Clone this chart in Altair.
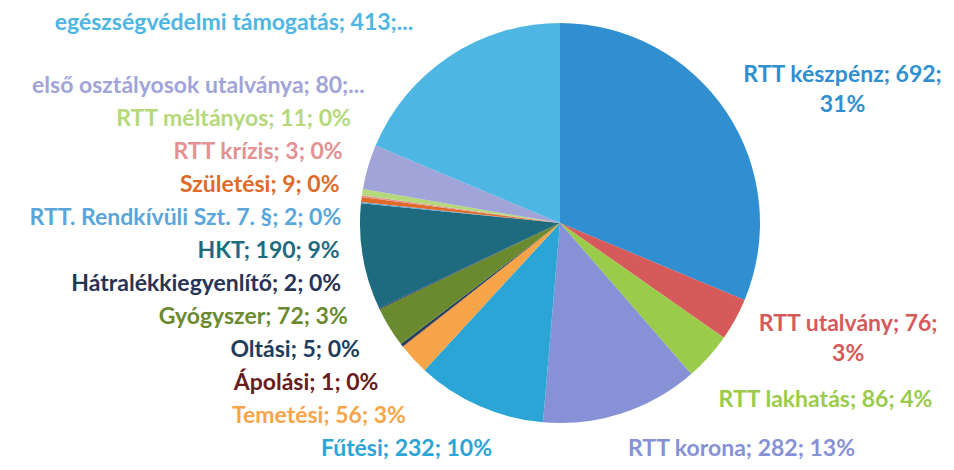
import math
import altair as alt
import pandas as pd

# ---- data ----
categories = [
    "RTT készpénz", "RTT utalvány", "RTT lakhatás", "RTT korona", "Fűtési",
    "Temetési", "Ápolási", "Oltási", "Gyógyszer", "Hátralékkiegyenlítő", "HKT",
    "RTT. Rendkívüli Szt. 7. §", "Születési", "RTT krízis", "RTT méltányos",
    "első osztályosok utalványa", "egészségvédelmi támogatás",
]
values = [692, 76, 86, 282, 232, 56, 1, 5, 72, 2, 190, 2, 9, 3, 11, 80, 413]
label_texts = [
    "RTT készpénz; 692;\n31%", "RTT utalvány; 76;\n3%", "RTT lakhatás; 86; 4%",
    "RTT korona; 282; 13%", "Fűtési; 232; 10%", "Temetési; 56; 3%",
    "Ápolási; 1; 0%", "Oltási; 5; 0%", "Gyógyszer; 72; 3%",
    "Hátralékkiegyenlítő; 2; 0%", "HKT; 190; 9%", "RTT. Rendkívüli Szt. 7. §; 2; 0%",
    "Születési; 9; 0%", "RTT krízis; 3; 0%", "RTT méltányos; 11; 0%",
    "első osztályosok utalványa; 80;...", "egészségvédelmi támogatás; 413;...",
]
colors = [
    "#2F8FD1", "#D65A5A", "#9BCB4B", "#8691D6", "#2AA5D5", "#F8A54A",
    "#6A1B1B", "#1E3D5C", "#6B8A2F", "#283355", "#1E6B7F", "#5AA6DA",
    "#E06A2A", "#E39191", "#B5D97A", "#A0A4D8", "#4DB6E2",
]

# ---- layout ----
W, H = 938, 454
CX, CY = 552, 215
R = 200
RL = 240
FS = 23
LH = 30
CHAR_W = 0.49 * FS
Y_MIN, Y_MAX = 7, 441

total = sum(values)
cum = 0
items = []
for i, (c, v, t) in enumerate(zip(categories, values, label_texts)):
    mid = (cum + v / 2) / total * 2 * math.pi
    cum += v
    lines = t.split("\n")
    n = len(lines)
    w = max(len(l) for l in lines) * CHAR_W
    right = math.sin(mid) >= 0
    items.append(dict(
        idx=i, cat=c, text=t, n=n, w=w, right=right,
        y0=CY - RL * math.cos(mid),
        h=33 if n == 1 else 90,
    ))


def spread(group):
    group.sort(key=lambda d: d["y0"])
    ys = [d["y0"] for d in group]
    for k in range(1, len(group)):
        ys[k] = max(ys[k], ys[k - 1] + (group[k - 1]["h"] + group[k]["h"]) / 2)
    ys[-1] = min(ys[-1], Y_MAX)
    for k in range(len(group) - 2, -1, -1):
        ys[k] = min(ys[k], ys[k + 1] - (group[k]["h"] + group[k + 1]["h"]) / 2)
    ys[0] = max(ys[0], Y_MIN)
    for d, y in zip(group, ys):
        d["ly"] = y


spread([d for d in items if d["right"]])
spread([d for d in items if not d["right"]])

for d in items:
    dy = d["ly"] - CY
    if d["ly"] - FS / 2 > CY + R + 4:
        # label lies wholly below the pie: it can sit close to the centre line
        dx = 68
    else:
        r = 218 + 0.15 * abs(dy)
        dx = math.sqrt(max(r * r - dy * dy, 0.0))
    x_edge = CX + dx if d["right"] else CX - dx
    # first line's middle, so that a multi-line block is centred on ly
    d["ly"] = d["ly"] - (d["n"] - 1) * LH / 2
    if d["n"] == 1:
        d["align"] = "left" if d["right"] else "right"
        d["lx"] = min(x_edge, W - d["w"] - 2) if d["right"] else x_edge
    else:
        d["align"] = "center"
        if d["right"]:
            d["lx"] = min(x_edge + d["w"] / 2, W - d["w"] / 2 - 2)
        else:
            d["lx"] = x_edge - d["w"] / 2

pie_df = pd.DataFrame({"idx": range(len(categories)), "cat": categories, "value": values})
lab_df = pd.DataFrame([{k: d[k] for k in ("idx", "cat", "text", "lx", "ly", "align")} for d in items])

color_scale = alt.Scale(domain=categories, range=colors)

pie = alt.Chart(pie_df).mark_arc(radius=R).encode(
    theta=alt.Theta("value:Q", stack=True),
    color=alt.Color("cat:N", scale=color_scale, legend=None),
    order=alt.Order("idx:Q", sort="ascending"),
    x=alt.value(CX),
    y=alt.value(CY),
)

layers = [pie]
for al in ["left", "right", "center"]:
    layers.append(
        alt.Chart(lab_df).transform_filter(alt.datum.align == al).mark_text(
            align=al, baseline="middle", font="Lato", fontSize=FS,
            fontWeight="bold", lineBreak="\n", lineHeight=LH,
        ).encode(
            x=alt.X("lx:Q", scale=None),
            y=alt.Y("ly:Q", scale=None),
            text="text:N",
            color=alt.Color("cat:N", scale=color_scale, legend=None),
        )
    )

chart = alt.layer(*layers).properties(
    width=W, height=H, padding=0, autosize="none"
).configure_view(stroke=None)

chart.save("out.html", embed_options={"renderer": "svg", "actions": False})
